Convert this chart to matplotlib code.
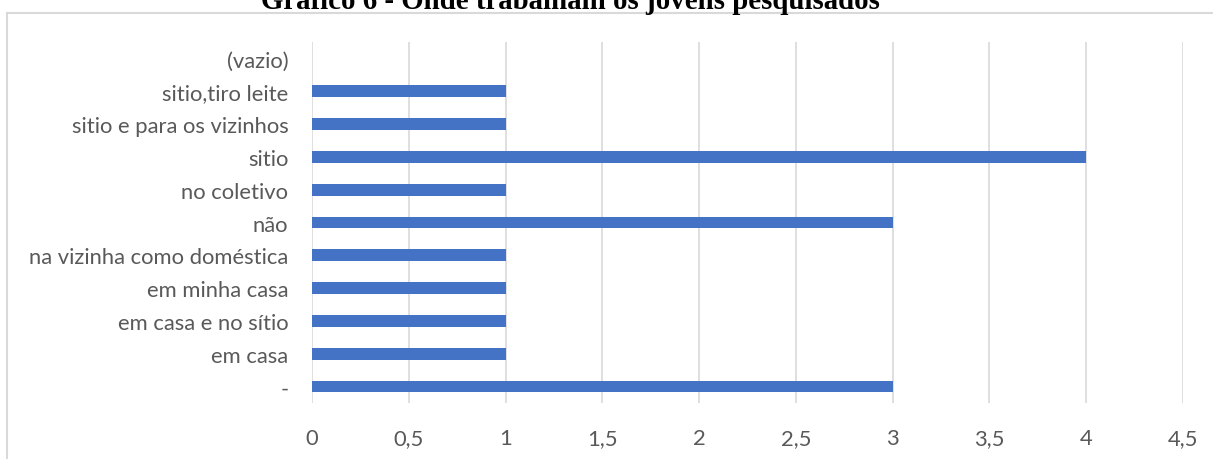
import matplotlib.pyplot as plt
from matplotlib.lines import Line2D
from matplotlib.ticker import FuncFormatter

categories = ["-", "em casa", "em casa e no sítio", "em minha casa",
              "na vizinha como doméstica", "não", "no coletivo", "sitio",
              "sitio e para os vizinhos", "sitio,tiro leite", "(vazio)"]
values = [3, 1, 1, 1, 1, 3, 1, 4, 1, 1, 0]
ticks = [0, 0.5, 1, 1.5, 2, 2.5, 3, 3.5, 4, 4.5]

plt.rcParams['font.family'] = ['Lato', 'DejaVu Sans']

W, H = 1213, 460
fig = plt.figure(figsize=(W / 100, H / 100), dpi=100)
ax = fig.add_axes([312 / W, 1 - 404 / H, (1183 - 312) / W, (404 - 43) / H])

pos = range(len(categories))
ax.barh(pos, values, height=0.36, color='#4472C4', zorder=3)
ax.set_yticks(list(pos))
ax.set_yticklabels(categories)
ax.set_ylim(-0.5, len(categories) - 0.5)
ax.set_xlim(0, 4.5)
ax.set_xticks(ticks)
ax.xaxis.set_major_formatter(FuncFormatter(lambda v, p: ('%g' % v).replace('.', ',')))
ax.grid(axis='x', color='#D9D9D9', linewidth=1.2, zorder=0)
for s in ax.spines.values():
    s.set_visible(False)
ax.tick_params(length=0, labelsize=15.8, labelcolor='#595959')
ax.tick_params(axis='y', pad=17)
ax.tick_params(axis='x', pad=18)

# chart border (only top and left visible in the crop)
fig.add_artist(Line2D([7 / W, 1.0], [1 - 14 / H, 1 - 14 / H], color='#D9D9D9', linewidth=1.5))
fig.add_artist(Line2D([7 / W, 7 / W], [0, 1 - 14 / H], color='#D9D9D9', linewidth=1.5))

fig.text(570 / W, 1 - 9 / H, "Gráfico 6 - Onde trabalham os jovens pesquisados",
         ha='center', va='baseline', fontsize=20.8, fontweight='bold',
         family=['Liberation Serif', 'DejaVu Serif'])

fig.savefig('out.png', dpi=100)
